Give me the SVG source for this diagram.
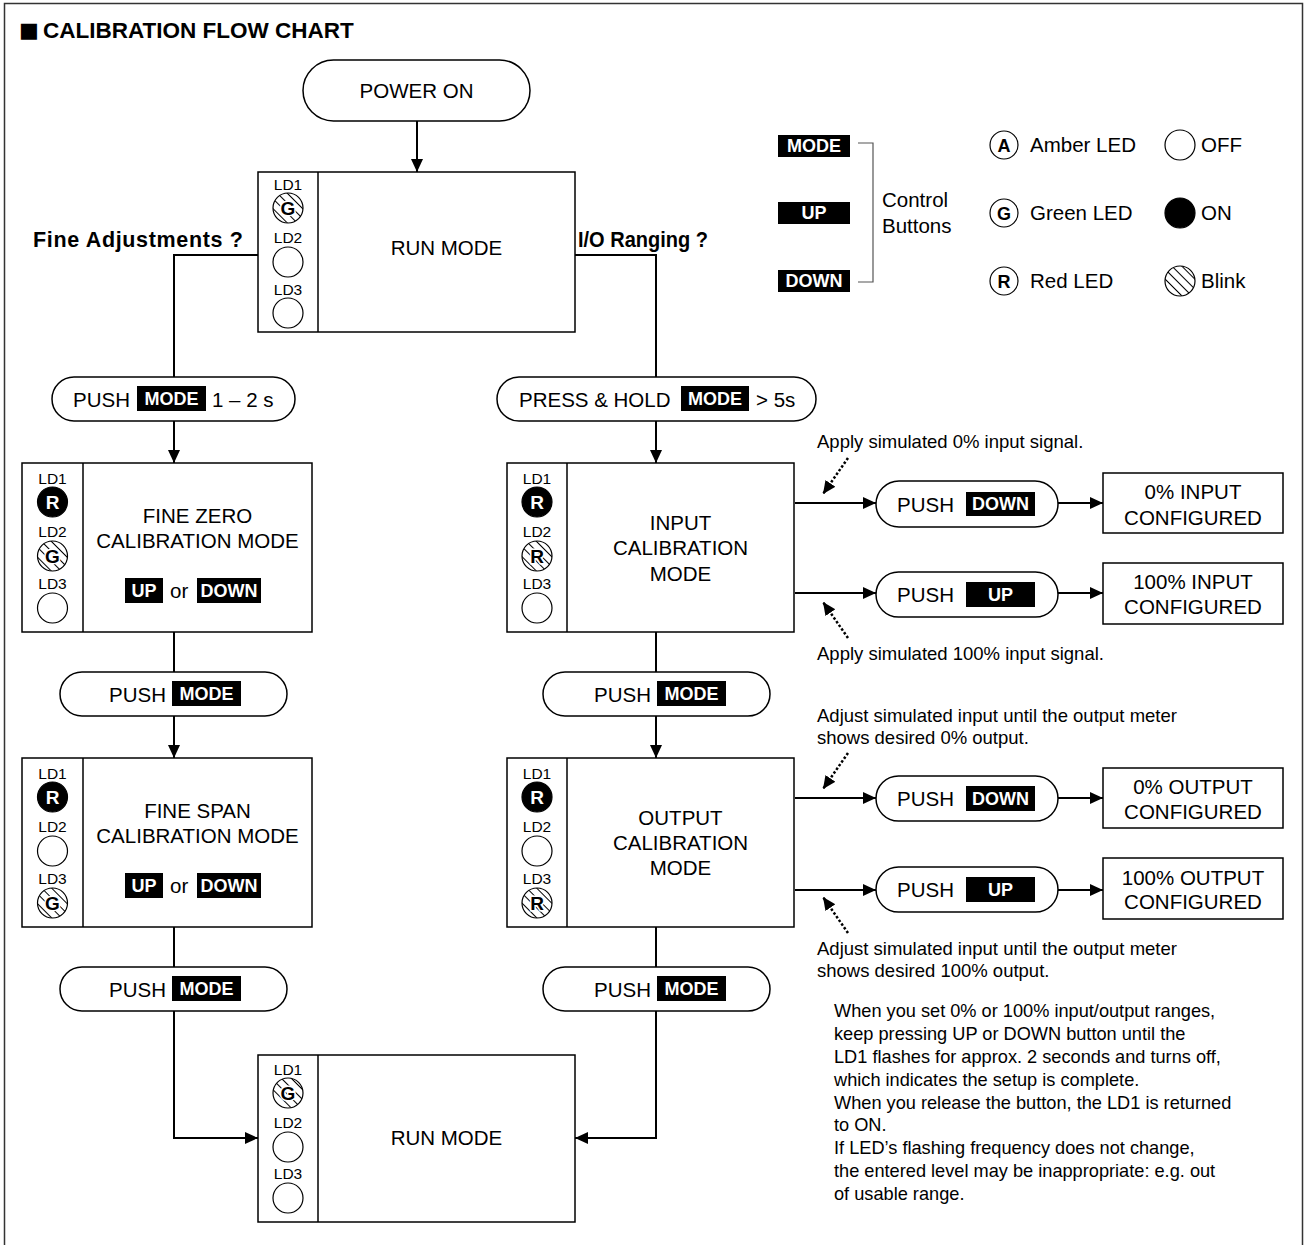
<svg xmlns="http://www.w3.org/2000/svg" width="1305" height="1245" viewBox="0 0 1305 1245">
<style>
text{font-family:"Liberation Sans",Arial,Helvetica,sans-serif;fill:#000}
.t{font-size:20.5px}
.c{text-anchor:middle}
.h{font-size:21.5px;font-weight:bold}
.sm{font-size:18.5px}
.nt{font-size:18.2px}
.ld{font-size:15.5px;text-anchor:middle}
.bt{font-size:18px;font-weight:bold;fill:#fff;text-anchor:middle}
.box{fill:#fff;stroke:#000;stroke-width:1.5}
.pill{fill:#fff;stroke:#000;stroke-width:1.5}
.conn{fill:none;stroke:#000;stroke-width:2}
.dot{fill:none;stroke:#000;stroke-width:2.5;stroke-dasharray:2.5 2}
.led{fill:#fff;stroke:#000;stroke-width:1.2}
.on{fill:#000;stroke:#000;stroke-width:1.2}
.blk{fill:url(#hatch);stroke:#000;stroke-width:1.2}
.lw{font-size:19px;font-weight:bold;text-anchor:middle;fill:#fff}
.lk{font-size:18px;font-weight:bold;text-anchor:middle;fill:#000}
.lh{font-size:19px;font-weight:bold;text-anchor:middle;fill:#000;stroke:#fff;stroke-width:3;paint-order:stroke}
</style>
<defs>
<pattern id="hatch" patternUnits="userSpaceOnUse" width="7" height="7" patternTransform="rotate(45)">
<rect width="7" height="7" fill="#fff"/>
<line x1="0" y1="3.5" x2="7" y2="3.5" stroke="#000" stroke-width="1"/>
</pattern>
<marker id="arr" markerUnits="userSpaceOnUse" markerWidth="14" markerHeight="12" refX="13" refY="6" orient="auto">
<path d="M0,0 L13,6 L0,12 z" fill="#000"/>
</marker>
<marker id="darr" markerUnits="userSpaceOnUse" markerWidth="14" markerHeight="14" refX="13" refY="6" orient="auto">
<path d="M0,0 L13,6 L0,12 z" fill="#000"/>
</marker>
</defs>
<rect width="1305" height="1245" fill="#fff"/>
<path d="M4.5,1245 V3.5 H1302.5 V1245" fill="none" stroke="#333" stroke-width="1.5"/>
<g id="title">
<text x="19" y="37" style="font-family:'DejaVu Sans',sans-serif;font-size:21px">■</text>
<text x="43" y="38" style="font-size:22.5px;font-weight:bold">CALIBRATION FLOW CHART</text>
</g>

<g id="connectors">
<path class="conn" d="M417,121 V172" marker-end="url(#arr)"/>
<path class="conn" d="M258,255 H174 V377"/>
<path class="conn" d="M575,255 H656 V377"/>
<path class="conn" d="M174,421 V463" marker-end="url(#arr)"/>
<path class="conn" d="M656,421 V463" marker-end="url(#arr)"/>
<path class="conn" d="M174,632 V672"/>
<path class="conn" d="M174,716 V758" marker-end="url(#arr)"/>
<path class="conn" d="M174,927 V967"/>
<path class="conn" d="M174,1011 V1138 H258" marker-end="url(#arr)"/>
<path class="conn" d="M656,632 V672"/>
<path class="conn" d="M656,716 V758" marker-end="url(#arr)"/>
<path class="conn" d="M656,927 V967"/>
<path class="conn" d="M656,1011 V1138 H575" marker-end="url(#arr)"/>
<path class="conn" d="M795,503 H876" marker-end="url(#arr)"/>
<path class="conn" d="M1058,503 H1103" marker-end="url(#arr)"/>
<path class="conn" d="M795,593 H876" marker-end="url(#arr)"/>
<path class="conn" d="M1058,593 H1103" marker-end="url(#arr)"/>
<path class="conn" d="M795,798 H876" marker-end="url(#arr)"/>
<path class="conn" d="M1058,798 H1103" marker-end="url(#arr)"/>
<path class="conn" d="M795,890 H876" marker-end="url(#arr)"/>
<path class="conn" d="M1058,890 H1103" marker-end="url(#arr)"/>
<path class="dot" d="M848,458 L823,494" marker-end="url(#darr)"/>
<path class="dot" d="M848,638 L823,602" marker-end="url(#darr)"/>
<path class="dot" d="M848,753 L823,789" marker-end="url(#darr)"/>
<path class="dot" d="M848,933 L823,897" marker-end="url(#darr)"/>
</g>

<g id="labels">
<text class="h" x="33" y="247" textLength="210" lengthAdjust="spacing">Fine Adjustments ?</text>
<text class="h" x="578" y="247" textLength="130" lengthAdjust="spacingAndGlyphs">I/O Ranging ?</text>
<text class="sm" x="817" y="448">Apply simulated 0% input signal.</text>
<text class="sm" x="817" y="660">Apply simulated 100% input signal.</text>
<text class="sm" x="817" y="722">Adjust simulated input until the output meter</text>
<text class="sm" x="817" y="744">shows desired 0% output.</text>
<text class="sm" x="817" y="955">Adjust simulated input until the output meter</text>
<text class="sm" x="817" y="977">shows desired 100% output.</text>
</g>

<g id="legend">
<rect x="778" y="135" width="72" height="22" fill="#000"/><text class="bt" x="814" y="152">MODE</text>
<rect x="778" y="202" width="72" height="22" fill="#000"/><text class="bt" x="814" y="219">UP</text>
<rect x="778" y="270" width="72" height="22" fill="#000"/><text class="bt" x="814" y="287">DOWN</text>
<path d="M858,143 H873 V282 H858" fill="none" stroke="#555" stroke-width="1.2"/>
<text class="t" x="882" y="207">Control</text>
<text class="t" x="882" y="233">Buttons</text>
<circle class="led" cx="1004" cy="145" r="14"/><text class="lk" x="1004" y="151.5">A</text>
<text class="t" x="1030" y="152">Amber LED</text>
<circle class="led" cx="1004" cy="213" r="14"/><text class="lk" x="1004" y="219.5">G</text>
<text class="t" x="1030" y="220">Green LED</text>
<circle class="led" cx="1004" cy="281" r="14"/><text class="lk" x="1004" y="287.5">R</text>
<text class="t" x="1030" y="288">Red LED</text>
<circle class="led" cx="1180" cy="145" r="15"/>
<text class="t" x="1201" y="152">OFF</text>
<circle class="on" cx="1180" cy="213" r="15"/>
<text class="t" x="1201" y="220">ON</text>
<circle class="blk" cx="1180" cy="281" r="15"/>
<text class="t" x="1201" y="288">Blink</text>
</g>

<g id="power-on">
<rect class="pill" x="303" y="60" width="227" height="61" rx="30.5"/>
<text class="t c" x="416.5" y="98">POWER ON</text>
</g>

<g id="run-mode-1">
<rect class="box" x="258" y="172" width="317" height="160"/>
<line x1="318" y1="172" x2="318" y2="332" stroke="#000" stroke-width="1.5"/>
<text class="ld" x="288" y="190">LD1</text>
<circle class="blk" cx="288" cy="208" r="15"/><text class="lh" x="288" y="215">G</text>
<text class="ld" x="288" y="243">LD2</text>
<circle class="led" cx="288" cy="262" r="15"/>
<text class="ld" x="288" y="295">LD3</text>
<circle class="led" cx="288" cy="313" r="15"/>
<text class="t c" x="446.5" y="255">RUN MODE</text>
</g>

<g id="push-mode-fine">
<rect class="pill" x="52" y="377" width="243" height="44" rx="22"/>
<text class="t" x="73" y="406.5">PUSH</text>
<rect x="137" y="386" width="69" height="25" fill="#000"/><text class="bt" x="171.5" y="405">MODE</text>
<text class="t" x="212" y="406.5">1 – 2 s</text>
</g>

<g id="press-hold-mode">
<rect class="pill" x="497" y="377" width="319" height="44" rx="22"/>
<text class="t" x="519" y="406.5">PRESS &amp; HOLD</text>
<rect x="681" y="386" width="68" height="25" fill="#000"/><text class="bt" x="715" y="405">MODE</text>
<text class="t" x="756" y="406.5">&gt; 5s</text>
</g>

<g id="fine-zero">
<rect class="box" x="22" y="463" width="290" height="169"/>
<line x1="83" y1="463" x2="83" y2="632" stroke="#000" stroke-width="1.5"/>
<text class="ld" x="52.5" y="484">LD1</text>
<circle class="on" cx="52.5" cy="502" r="15"/><text class="lw" x="52.5" y="509">R</text>
<text class="ld" x="52.5" y="537">LD2</text>
<circle class="blk" cx="52.5" cy="556" r="15"/><text class="lh" x="52.5" y="563">G</text>
<text class="ld" x="52.5" y="589">LD3</text>
<circle class="led" cx="52.5" cy="608" r="15"/>
<text class="t c" x="197.5" y="523">FINE ZERO</text>
<text class="t c" x="197.5" y="548">CALIBRATION MODE</text>
<rect x="125" y="578" width="38" height="25" fill="#000"/><text class="bt" x="144" y="597">UP</text>
<text class="t" x="170" y="598">or</text>
<rect x="197" y="578" width="64" height="25" fill="#000"/><text class="bt" x="229" y="597">DOWN</text>
</g>

<g id="push-mode-l2">
<rect class="pill" x="60" y="672" width="227" height="44" rx="22"/>
<text class="t" x="109" y="701.5">PUSH</text>
<rect x="172" y="681" width="69" height="25" fill="#000"/><text class="bt" x="206.5" y="700">MODE</text>
</g>

<g id="fine-span">
<rect class="box" x="22" y="758" width="290" height="169"/>
<line x1="83" y1="758" x2="83" y2="927" stroke="#000" stroke-width="1.5"/>
<text class="ld" x="52.5" y="779">LD1</text>
<circle class="on" cx="52.5" cy="797" r="15"/><text class="lw" x="52.5" y="804">R</text>
<text class="ld" x="52.5" y="832">LD2</text>
<circle class="led" cx="52.5" cy="851" r="15"/>
<text class="ld" x="52.5" y="884">LD3</text>
<circle class="blk" cx="52.5" cy="903" r="15"/><text class="lh" x="52.5" y="910">G</text>
<text class="t c" x="197.5" y="818">FINE SPAN</text>
<text class="t c" x="197.5" y="843">CALIBRATION MODE</text>
<rect x="125" y="873" width="38" height="25" fill="#000"/><text class="bt" x="144" y="892">UP</text>
<text class="t" x="170" y="893">or</text>
<rect x="197" y="873" width="64" height="25" fill="#000"/><text class="bt" x="229" y="892">DOWN</text>
</g>

<g id="push-mode-l3">
<rect class="pill" x="60" y="967" width="227" height="44" rx="22"/>
<text class="t" x="109" y="996.5">PUSH</text>
<rect x="172" y="976" width="69" height="25" fill="#000"/><text class="bt" x="206.5" y="995">MODE</text>
</g>

<g id="input-cal">
<rect class="box" x="507" y="463" width="287" height="169"/>
<line x1="567" y1="463" x2="567" y2="632" stroke="#000" stroke-width="1.5"/>
<text class="ld" x="537" y="484">LD1</text>
<circle class="on" cx="537" cy="502" r="15"/><text class="lw" x="537" y="509">R</text>
<text class="ld" x="537" y="537">LD2</text>
<circle class="blk" cx="537" cy="556" r="15"/><text class="lh" x="537" y="563">R</text>
<text class="ld" x="537" y="589">LD3</text>
<circle class="led" cx="537" cy="608" r="15"/>
<text class="t c" x="680.5" y="530">INPUT</text>
<text class="t c" x="680.5" y="555">CALIBRATION</text>
<text class="t c" x="680.5" y="581">MODE</text>
</g>

<g id="push-mode-r2">
<rect class="pill" x="543" y="672" width="227" height="44" rx="22"/>
<text class="t" x="594" y="701.5">PUSH</text>
<rect x="657" y="681" width="69" height="25" fill="#000"/><text class="bt" x="691.5" y="700">MODE</text>
</g>

<g id="output-cal">
<rect class="box" x="507" y="758" width="287" height="169"/>
<line x1="567" y1="758" x2="567" y2="927" stroke="#000" stroke-width="1.5"/>
<text class="ld" x="537" y="779">LD1</text>
<circle class="on" cx="537" cy="797" r="15"/><text class="lw" x="537" y="804">R</text>
<text class="ld" x="537" y="832">LD2</text>
<circle class="led" cx="537" cy="851" r="15"/>
<text class="ld" x="537" y="884">LD3</text>
<circle class="blk" cx="537" cy="903" r="15"/><text class="lh" x="537" y="910">R</text>
<text class="t c" x="680.5" y="825">OUTPUT</text>
<text class="t c" x="680.5" y="850">CALIBRATION</text>
<text class="t c" x="680.5" y="875">MODE</text>
</g>

<g id="push-mode-r3">
<rect class="pill" x="543" y="967" width="227" height="44" rx="22"/>
<text class="t" x="594" y="996.5">PUSH</text>
<rect x="657" y="976" width="69" height="25" fill="#000"/><text class="bt" x="691.5" y="995">MODE</text>
</g>

<g id="push-down-in">
<rect class="pill" x="876" y="481" width="182" height="46" rx="23"/>
<text class="t" x="897" y="511.5">PUSH</text>
<rect x="966" y="492" width="69" height="24" fill="#000"/><text class="bt" x="1000.5" y="510">DOWN</text>
</g>
<g id="in-0-configured">
<rect class="box" x="1103" y="473" width="180" height="60"/>
<text class="t c" x="1193" y="499">0% INPUT</text>
<text class="t c" x="1193" y="525">CONFIGURED</text>
</g>
<g id="push-up-in">
<rect class="pill" x="876" y="572" width="182" height="45" rx="22.5"/>
<text class="t" x="897" y="602">PUSH</text>
<rect x="966" y="582" width="69" height="25" fill="#000"/><text class="bt" x="1000.5" y="601">UP</text>
</g>
<g id="in-100-configured">
<rect class="box" x="1103" y="563" width="180" height="61"/>
<text class="t c" x="1193" y="589">100% INPUT</text>
<text class="t c" x="1193" y="614">CONFIGURED</text>
</g>
<g id="push-down-out">
<rect class="pill" x="876" y="776" width="182" height="45" rx="22.5"/>
<text class="t" x="897" y="806">PUSH</text>
<rect x="966" y="786" width="69" height="25" fill="#000"/><text class="bt" x="1000.5" y="805">DOWN</text>
</g>
<g id="out-0-configured">
<rect class="box" x="1103" y="768" width="180" height="60"/>
<text class="t c" x="1193" y="794">0% OUTPUT</text>
<text class="t c" x="1193" y="819">CONFIGURED</text>
</g>
<g id="push-up-out">
<rect class="pill" x="876" y="867" width="182" height="45" rx="22.5"/>
<text class="t" x="897" y="897">PUSH</text>
<rect x="966" y="877" width="69" height="25" fill="#000"/><text class="bt" x="1000.5" y="896">UP</text>
</g>
<g id="out-100-configured">
<rect class="box" x="1103" y="858" width="180" height="61"/>
<text class="t c" x="1193" y="885">100% OUTPUT</text>
<text class="t c" x="1193" y="909">CONFIGURED</text>
</g>

<g id="run-mode-2">
<rect class="box" x="258" y="1055" width="317" height="167"/>
<line x1="318" y1="1055" x2="318" y2="1222" stroke="#000" stroke-width="1.5"/>
<text class="ld" x="288" y="1075">LD1</text>
<circle class="blk" cx="288" cy="1093" r="15"/><text class="lh" x="288" y="1100">G</text>
<text class="ld" x="288" y="1128">LD2</text>
<circle class="led" cx="288" cy="1147" r="15"/>
<text class="ld" x="288" y="1179">LD3</text>
<circle class="led" cx="288" cy="1198" r="15"/>
<text class="t c" x="446.5" y="1145">RUN MODE</text>
</g>

<g id="notes">
<text class="nt" x="834" y="1017">When you set 0% or 100% input/output ranges,</text>
<text class="nt" x="834" y="1040">keep pressing UP or DOWN button until the</text>
<text class="nt" x="834" y="1063">LD1 flashes for approx. 2 seconds and turns off,</text>
<text class="nt" x="834" y="1086">which indicates the setup is complete.</text>
<text class="nt" x="834" y="1109">When you release the button, the LD1 is returned</text>
<text class="nt" x="834" y="1131">to ON.</text>
<text class="nt" x="834" y="1154">If LED’s flashing frequency does not change,</text>
<text class="nt" x="834" y="1177">the entered level may be inappropriate: e.g. out</text>
<text class="nt" x="834" y="1200">of usable range.</text>
</g>
</svg>
